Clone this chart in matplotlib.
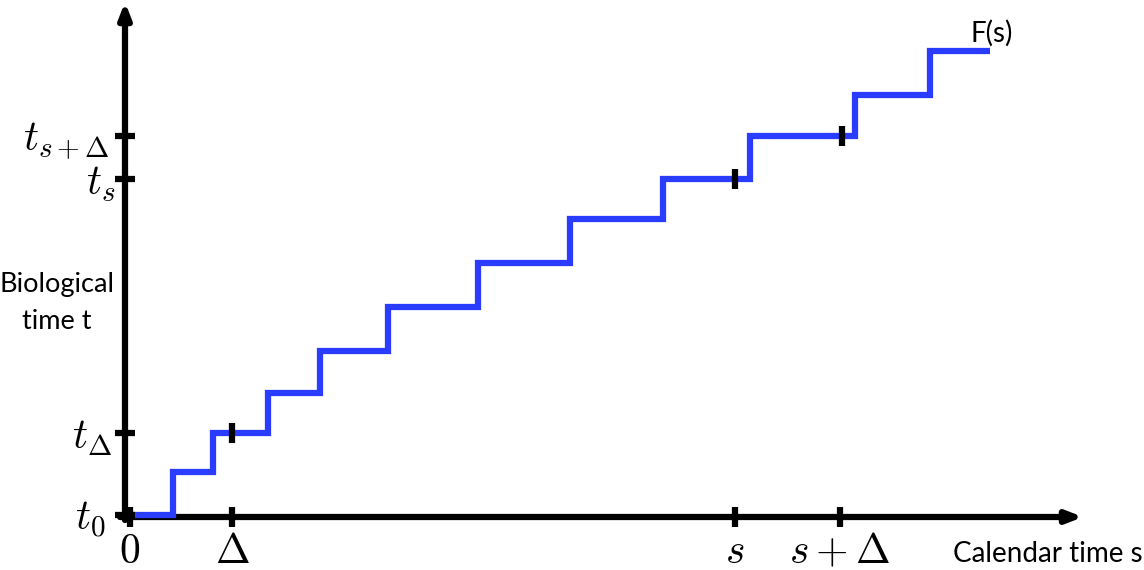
import matplotlib
matplotlib.use("Agg")
import matplotlib.pyplot as plt
import numpy as np

plt.rcParams['mathtext.fontset'] = 'cm'

# Staircase F(s): breakpoints in calendar time and biological-time levels
step_x = [0, 43, 83, 138, 190, 258, 348, 440, 533, 620, 725, 800, 860]
step_y = [0, 43, 82, 122, 164, 208, 252, 296, 336, 379, 420, 464]

# Axis tick positions and labels
xtick_pos = [0, 102, 605, 710]
xtick_labels = [r'$0$', r'$\Delta$', r'$s$', r'$s+\Delta$']
ytick_pos = [0, 82, 336, 379]
ytick_labels = [r'$t_0$', r'$t_\Delta$', r'$t_s$', r'$t_{s+\Delta}$']

# Marks on the curve
mark_x = [102, 605, 712]
mark_y = [82, 336, 379]

fig = plt.figure(figsize=(11.44, 5.70), dpi=100)
ax = fig.add_axes([0, 0, 1, 1])
ax.set_xlim(-130, 1014)
ax.set_ylim(-55, 515)
ax.axis('off')

# axes with arrows
ax.annotate('', xy=(953, -2), xytext=(-10, -2),
            arrowprops=dict(arrowstyle='-|>,head_length=0.9,head_width=0.35', lw=4.5, color='black',
                            shrinkA=0, shrinkB=0))
ax.annotate('', xy=(-5, 513), xytext=(-5, -5),
            arrowprops=dict(arrowstyle='-|>,head_length=0.9,head_width=0.35', lw=4.5, color='black',
                            shrinkA=0, shrinkB=0))

# staircase
xs = [step_x[0]]
ys = [step_y[0]]
for i, lvl in enumerate(step_y):
    x0 = step_x[i]
    x1 = step_x[i + 1]
    if i > 0:
        xs.append(x0); ys.append(lvl)
    xs.append(x1); ys.append(lvl)
ax.plot(xs, ys, color='#2a3cff', lw=4.5, solid_joinstyle='miter', solid_capstyle='butt', zorder=3)

# ticks on x axis
for xp, lab in zip(xtick_pos, xtick_labels):
    ax.plot([xp, xp], [-12, 8], color='black', lw=4.5, solid_capstyle='butt', zorder=4)
    ax.text(xp, -36, lab, ha='center', va='center', fontsize=30)

# ticks on y axis
ylab_x = [-25, -18, -15, -20]
for yp, lab, lx in zip(ytick_pos, ytick_labels, ylab_x):
    ax.plot([-15, 5], [yp, yp], color='black', lw=4.5, solid_capstyle='butt', zorder=4)
    ax.text(lx, yp - 4, lab, ha='right', va='center', fontsize=30)

# marks on curve
for mx, my in zip(mark_x, mark_y):
    ax.plot([mx, mx], [my - 10, my + 10], color='black', lw=4.5, solid_capstyle='butt', zorder=5)

ax.text(823, -39, 'Calendar time s', ha='left', va='center', fontsize=20, family='Lato')
ax.text(-73, 212, 'Biological\ntime t', ha='center', va='center', fontsize=19.5,
        family='Lato', linespacing=1.6)
ax.text(862, 482, 'F(s)', ha='center', va='center', fontsize=20, family='Lato')

fig.savefig('out.png', dpi=100)
